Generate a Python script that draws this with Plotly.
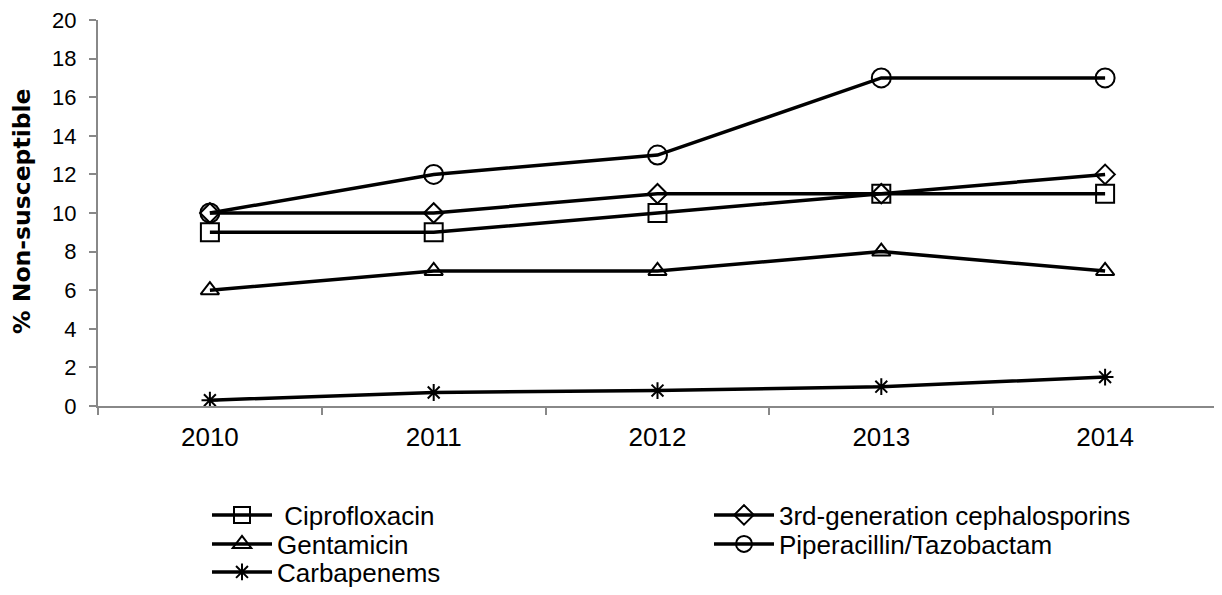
import plotly.graph_objects as go

years = ["2010", "2011", "2012", "2013", "2014"]
cipro = [9, 9, 10, 11, 11]
ceph3 = [10, 10, 11, 11, 12]
genta = [6, 7, 7, 8, 7]
pipt = [10, 12, 13, 17, 17]
carba = [0.3, 0.7, 0.8, 1.0, 1.5]
ytick_vals = [0, 2, 4, 6, 8, 10, 12, 14, 16, 18, 20]

series = [
    (" Ciprofloxacin", cipro, "square-open", 18, "legend"),
    ("3rd-generation cephalosporins", ceph3, "diamond-open", 15, "legend"),
    ("Gentamicin", genta, "triangle-up-open", 16, "legend2"),
    ("Piperacillin/Tazobactam", pipt, "circle-open", 19, "legend2"),
    ("Carbapenems", carba, "asterisk-open", 14, "legend3"),
]

# page body adds an 8px offset, so the figure is drawn 8px smaller
W, H = 1214, 587

fig = go.Figure()
for name, vals, sym, sz, lg in series:
    fig.add_trace(go.Scatter(
        x=years, y=vals, name=name, mode="lines+markers", legend=lg,
        line=dict(color="black", width=3.5),
        marker=dict(symbol=sym, size=sz, color="black", line=dict(color="black", width=2)),
    ))

legend_common = dict(
    orientation="h", xref="container", x=199 / W, xanchor="left",
    yref="container", yanchor="middle",
    entrywidth=427, entrywidthmode="pixels", itemwidth=60,
    font=dict(family="Liberation Sans, Arial, sans-serif", size=26, color="black"),
    traceorder="normal", bgcolor="rgba(0,0,0,0)",
)

fig.update_layout(
    width=W, height=H,
    margin=dict(l=90, r=5, t=12, b=189, autoexpand=False),
    plot_bgcolor="white", paper_bgcolor="white",
    font=dict(family="Liberation Sans, Arial, sans-serif", size=22, color="black"),
    showlegend=True,
    legend=dict(legend_common, y=1 - 507 / H),
    legend2=dict(legend_common, y=1 - 536 / H),
    legend3=dict(legend_common, y=1 - 564 / H),
    xaxis=dict(
        type="category", range=[-0.5, 4.5], showgrid=False,
        showline=True, linecolor="#888888", linewidth=2,
        ticks="outside", tickson="boundaries", ticklen=7, tickcolor="#888888", tickwidth=2,
        tickfont=dict(family="Liberation Sans, Arial, sans-serif", size=26),
        ticklabelstandoff=7,
    ),
    yaxis=dict(
        range=[0, 20.001], tickmode="array", tickvals=ytick_vals,
        showgrid=False, zeroline=False,
        showline=True, linecolor="#888888", linewidth=2,
        ticks="outside", ticklen=7, tickcolor="#888888", tickwidth=2,
        tickfont=dict(family="Liberation Sans, Arial, sans-serif", size=22),
        ticklabelstandoff=8, ticklabeloverflow="allow",
    ),
    annotations=[dict(
        text="<b>% Non-susceptible</b>", textangle=-90,
        xref="paper", yref="paper",
        x=(14 - 90) / 1119, y=(398 - 203) / 386,
        xanchor="center", yanchor="middle", showarrow=False,
        font=dict(family="DejaVu Sans, sans-serif", size=23.5, color="black"),
    )],
)

fig.write_html("out.html")
